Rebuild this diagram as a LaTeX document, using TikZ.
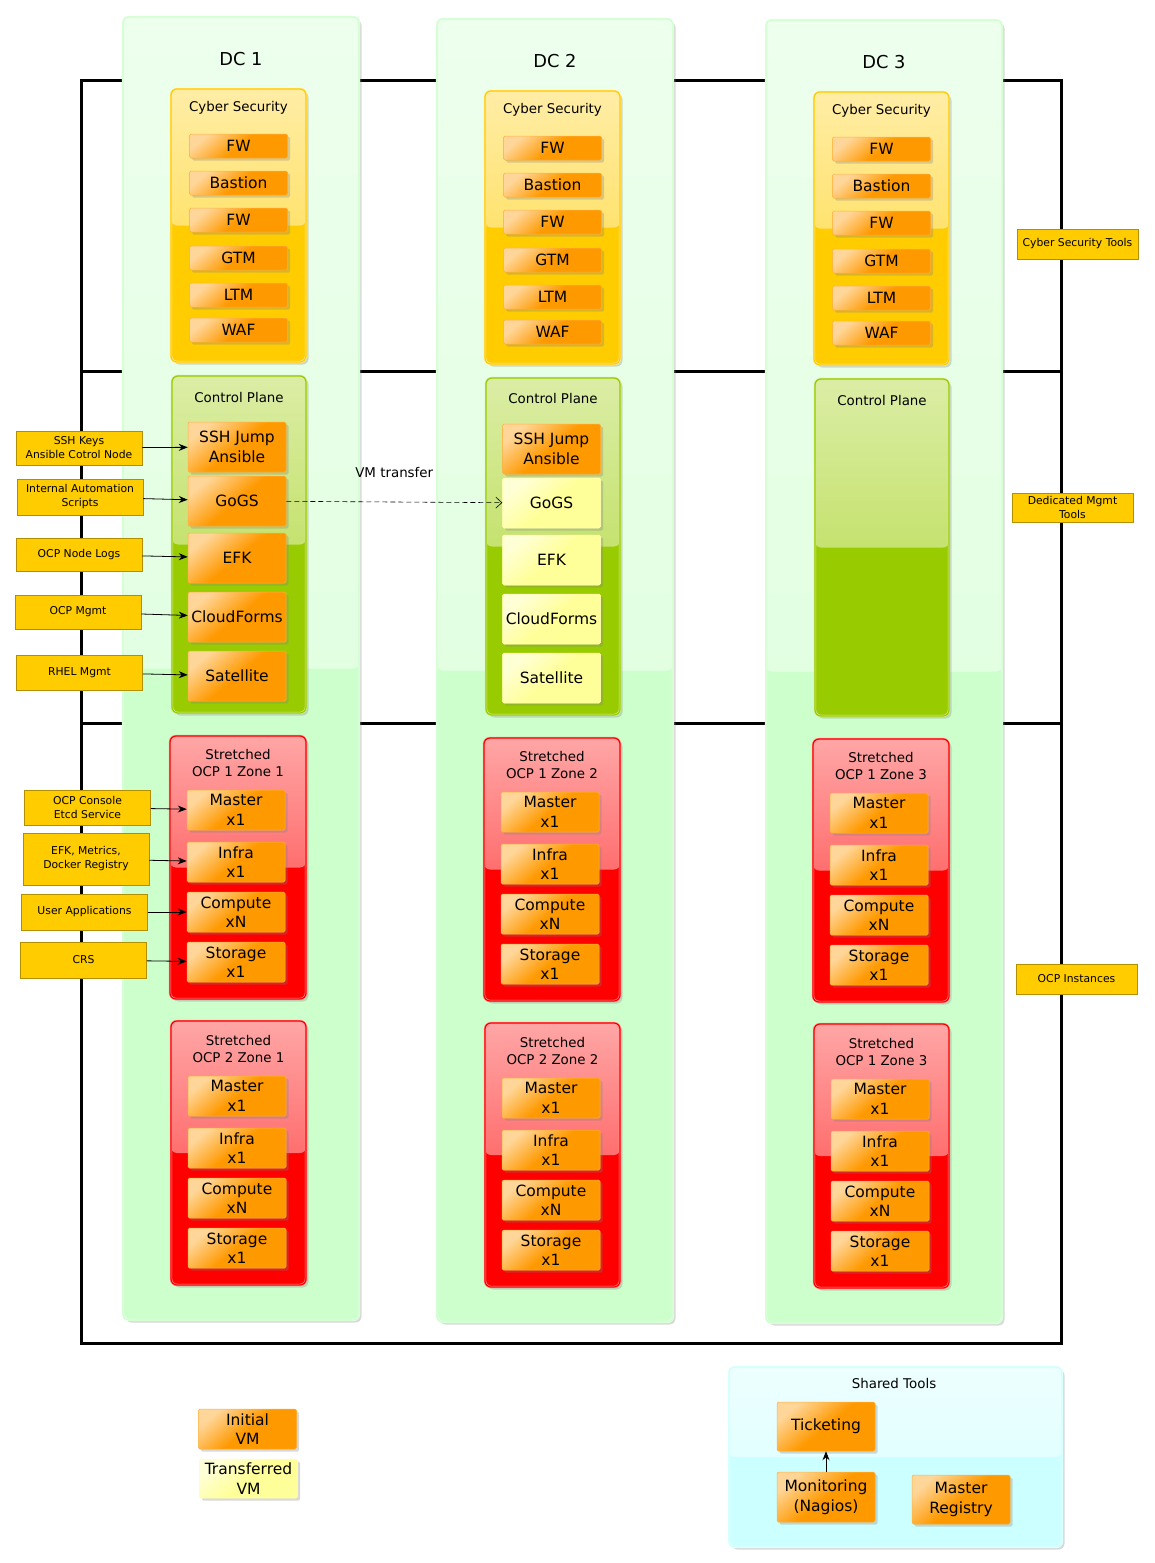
\documentclass[tikz,border=0pt]{standalone}
\usepackage{fontspec}
\setmainfont{DejaVu Sans}
\usetikzlibrary{arrows.meta,shadows}

\definecolor{dcgreen}{HTML}{CCFFCC}
\definecolor{csyellow}{HTML}{FFCC00}
\definecolor{cpgreen}{HTML}{99CC00}
\definecolor{ocpred}{HTML}{FF0000}
\definecolor{vmorange}{HTML}{FF9900}
\definecolor{vmyellow}{HTML}{FFFF99}
\definecolor{sharedcyan}{HTML}{CCFFFF}
\definecolor{tagyellow}{HTML}{FFCC00}

\tikzset{
  pane/.style={rounded corners=6pt, fill=#1, draw=#1!40!white, double=#1, double distance=1.2pt,
    line width=.6pt, inner sep=0pt,
    drop shadow={shadow xshift=2.5pt, shadow yshift=-2.5pt, opacity=.3},
    path picture={\shade[top color=#1!35!white, bottom color=#1!78!white]
      (path picture bounding box.north west) rectangle (path picture bounding box.east);}},
  vm/.style={rounded corners=1.5pt, inner sep=0pt, minimum width=98pt, align=center,
    font=\fontsize{15.5}{19.5}\selectfont, fill=#1, draw=#1!75!white, line width=.5pt,
    drop shadow={shadow xshift=2.5pt, shadow yshift=-2.5pt, opacity=.3},
    path picture={\shade[top color=#1!40!white, bottom color=#1, middle color=#1, shading angle=40]
      (path picture bounding box.north west) rectangle (path picture bounding box.south east);}},
  vm/.default=vmorange,
  vmnew/.style={vm=vmyellow},
  tag/.style={fill=tagyellow, draw=tagyellow!70!black, line width=.5pt, inner sep=0pt,
    minimum width=126pt, align=center, font=\fontsize{10.8}{14}\selectfont},
  title/.style={font=\fontsize{13.4}{17.5}\selectfont, align=center},
  link/.style={-{Stealth[length=9pt, width=7pt]}, line width=.8pt}
}

\begin{document}
\begin{tikzpicture}[x=1pt, y=-1pt]
\useasboundingbox (0,0) rectangle (1155,1563);

% frame behind the data centres
\draw[line width=3pt] (81,80) rectangle (1061,1343);
\draw[line width=3pt] (81,371) -- (1061,371) (81,723) -- (1061,723);

% the three data centres
\foreach \i/\dx/\dy/\zb in {1/0/0/2, 2/314/2/2, 3/643/3/1}{
  \begin{scope}[shift={(\dx,\dy)}]
    \node[pane=dcgreen, minimum width=236pt, minimum height=1303pt] (dc\i) at (241,668.5) {};
    \node[font=\fontsize{17.8}{20}\selectfont] (dct\i) at (241,59) {DC \i};

    \node[pane=csyellow, minimum width=135pt, minimum height=273pt] (cs\i) at (238.5,225.5) {};
    \node[title] (cst\i) at (238.5,108) {Cyber Security};
    \foreach \n/\lbl/\y in {a/FW/146, b/Bastion/183, c/FW/220, d/GTM/258, e/LTM/295, f/WAF/330}
      \node[vm, minimum height=24pt] (sec\i\n) at (238.5,\y) {\lbl};

    \node[pane=cpgreen, minimum width=134pt, minimum height=337pt] (cp\i) at (239,544.5) {};
    \node[title] (cpt\i) at (239,397) {Control Plane};

    \node[pane=ocpred, minimum width=136pt, minimum height=263pt] (za\i) at (238,867.5) {};
    \node[title] (zat\i) at (238,763) {Stretched\\OCP 1 Zone \i};
    \foreach \n/\lbl/\y in {master/{Master\\x1}/810, infra/{Infra\\x1}/862, compute/{Compute\\xN}/912, storage/{Storage\\x1}/962}
      \node[vm, minimum height=40pt] (\n\i a) at (236,\y) {\lbl};

    \node[pane=ocpred, minimum width=135pt, minimum height=264pt] (zb\i) at (238.5,1153) {};
    \node[title] (zbt\i) at (238.5,1049) {Stretched\\OCP \zb\ Zone \i};
    \foreach \n/\lbl/\y in {master/{Master\\x1}/1096, infra/{Infra\\x1}/1148, compute/{Compute\\xN}/1198, storage/{Storage\\x1}/1248}
      \node[vm, minimum height=40pt] (\n\i b) at (237,\y) {\lbl};
  \end{scope}
}

% control plane VMs
\foreach \n/\lbl/\y/\s in {ssh/{SSH Jump\\Ansible}/447/vm, gogs/GoGS/501/vmnew, efk/EFK/558/vmnew,
    cf/CloudForms/617/vmnew, sat/Satellite/676/vmnew}{
  \node[vm, minimum height=50pt] (\n1) at (237,\y) {\lbl};
  \node[\s, minimum height=50pt] (\n2) at (551.5,\y+2) {\lbl};
}

\draw[dashed, dash pattern=on 5pt off 3pt, line width=.6pt, -{Straight Barb[length=6pt, width=11pt]}]
  (gogs1) -- node[title, midway, yshift=30pt] (vmt) {VM transfer} (gogs2);

% tools feeding DC 1
\node[tag, minimum height=34pt] (tssh)  at (79,448)    {SSH Keys\\Ansible Cotrol Node};
\node[tag, minimum height=36pt] (tauto) at (80,497)    {Internal Automation\\Scripts};
\node[tag, minimum height=33pt] (tlogs) at (79,554.5)  {OCP Node Logs};
\node[tag, minimum height=34pt] (tocp)  at (78,612)    {OCP Mgmt};
\node[tag, minimum height=35pt] (trhel) at (79.5,672.5) {RHEL Mgmt};
\node[tag, minimum height=35pt] (tcons) at (87.5,807.5) {OCP Console\\Etcd Service};
\node[tag, minimum height=52pt] (tefk)  at (86,859)    {EFK, Metrics,\\Docker Registry};
\node[tag, minimum height=36pt] (tapps) at (84.5,912)  {User Applications};
\node[tag, minimum height=36pt] (tcrs)  at (83.5,960)  {CRS};

\draw[link] (tssh) -- (ssh1);
\draw[link] (tauto) -- (gogs1);
\draw[link] (tlogs) -- (efk1);
\draw[link] (tocp) -- (cf1);
\draw[link] (trhel) -- (sat1);
\draw[link] (tcons) -- (master1a);
\draw[link] (tefk) -- (infra1a);
\draw[link] (tapps) -- (compute1a);
\draw[link] (tcrs) -- (storage1a);

% layer names
\node[tag, minimum width=121pt, minimum height=30pt] (lcs)  at (1077.5,244)   {Cyber Security Tools};
\node[tag, minimum width=121pt, minimum height=29pt] (lmg)  at (1072.5,507.5) {Dedicated Mgmt\\Tools};
\node[tag, minimum width=121pt, minimum height=30pt] (locp) at (1076.5,979)   {OCP Instances};

% legend
\node[vm, minimum height=40pt] (leginit) at (247.5,1429) {Initial\\VM};
\node[vmnew, minimum height=39pt] (legtrans) at (248.5,1478.5) {Transferred\\VM};

% shared tools
\node[pane=sharedcyan, minimum width=333pt, minimum height=180pt] (shared) at (895.5,1457) {};
\node[title] (sharedt) at (894,1383) {Shared Tools};
\node[vm, minimum height=49pt] (tick) at (826,1426.5) {Ticketing};
\node[vm, minimum height=50pt] (mon) at (826,1497) {Monitoring\\(Nagios)};
\node[vm, minimum height=49pt] (reg) at (961,1499.5) {Master\\Registry};
\draw[link] (mon) -- (tick);
\end{tikzpicture}
\end{document}
